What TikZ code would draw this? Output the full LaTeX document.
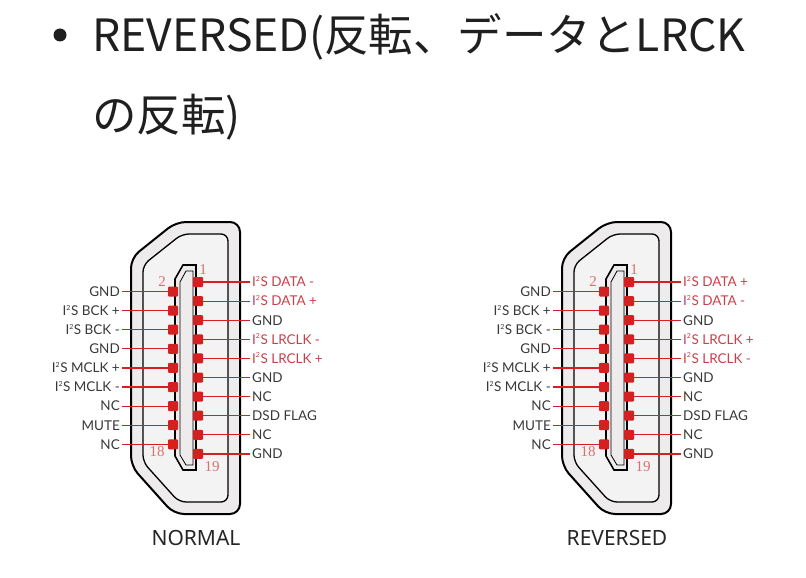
\documentclass[tikz,border=0pt]{standalone}
\usepackage{fontspec}
\setmainfont{Lato}
\newfontfamily\jpfont{Noto Sans CJK JP}
\newfontfamily\capfont{Noto Sans}
\newfontfamily\numfont{Liberation Serif}
\definecolor{pinred}{HTML}{D42020}
\definecolor{txtred}{HTML}{C8404A}
\definecolor{txtgray}{HTML}{383838}
\definecolor{numred}{HTML}{D87070}
\definecolor{shell}{HTML}{EDEBEB}
\newcommand\iis{I\textsuperscript{\scriptsize 2}S}
\tikzset{
  pad/.style={fill=pinred, minimum size=10pt, inner sep=0pt, rounded corners=1pt},
  wire/.style={pinred, line width=1.2pt},
  lbl/.style={font=\fontsize{13.5}{13.5}\selectfont, inner sep=2pt, text height=9.6pt, text depth=0pt},
  num/.style={font=\numfont\fontsize{15}{15}\selectfont, text=numred, inner sep=0pt},
  head/.style={anchor=base west, inner sep=0pt, text=black!88, font=\jpfont\fontsize{44.5}{44.5}\selectfont}
}
\begin{document}
\begin{tikzpicture}[x=1pt,y=-1pt]
\useasboundingbox (0,0) rectangle (806,578);
\fill[black!88] (60,35) circle (6.5);
\node[head] (title1) at (92,52) {REVERSED(反転、データとLRCK};
\node[head] (title2) at (92,131) {の反転)};
\foreach \sx/\nm/\pa/\pb/\cap/\cx in {0/n/-/+/NORMAL/196, 431/r/+/-/REVERSED/186}{
\begin{scope}[xshift=\sx pt]
\filldraw[fill=shell, line width=2pt, rounded corners=10pt] (176,222) -- (240,222) -- (240,514) -- (174,514) -- (131,466) -- (131,258) -- cycle;
\draw[fill=shell!60, line width=1.3pt, rounded corners=7pt] (182,234) -- (228,234) -- (228,502) -- (179,502) -- (143,462) -- (143,265) -- cycle;
\filldraw[fill=shell, line width=1.6pt] (175,279) -- (183,265) -- (196,265) -- (196,470) -- (183,470) -- (175,456) -- cycle;
\draw[line width=0.8pt] (180,282) -- (186,271) -- (193,271) -- (193,465) -- (186,465) -- (180,455) -- cycle;
\foreach \t/\c [count=\i from 0] in {{\iis\ DATA \pa}/txtred, {\iis\ DATA \pb}/txtred, GND/txtgray, {\iis\ LRCLK \pa}/txtred, {\iis\ LRCLK \pb}/txtred, GND/txtgray, NC/txtgray, DSD FLAG/txtgray, NC/txtgray, GND/txtgray}{
  \node[pad] (\nm p\i) at (198,282+19.1*\i) {};
  \node[lbl, text=\c, anchor=west] (\nm t\i) at (250,282+19.1*\i) {\t};
  \draw[wire] (\nm p\i.east) -- (\nm t\i.west);
}
\foreach \t [count=\i from 0] in {GND, {\iis\ BCK +}, {\iis\ BCK -}, GND, {\iis\ MCLK +}, {\iis\ MCLK -}, NC, MUTE, NC}{
  \node[pad] (\nm q\i) at (173,291.5+19.1*\i) {};
  \node[lbl, text=txtgray, anchor=east] (\nm s\i) at (122,291.5+19.1*\i) {\t};
  \draw[wire] (\nm q\i.west) -- (\nm s\i.east);
}
\node[num] (\nm n1) at (203,270) {1};
\node[num] (\nm n2) at (162,282) {2};
\node[num] (\nm n18) at (157,452) {18};
\node[num] (\nm n19) at (212,467) {19};
\node[font=\capfont\fontsize{21}{21}\selectfont, text=black!85] (\nm cap) at (\cx,538) {\cap};
\end{scope}
}
\end{tikzpicture}
\end{document}
